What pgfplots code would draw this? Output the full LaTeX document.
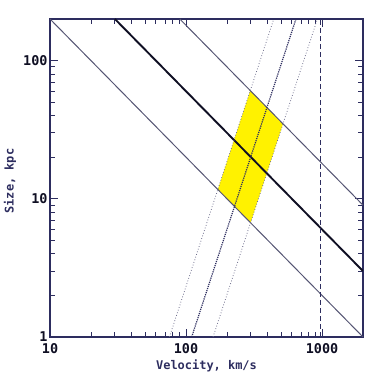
\documentclass[border=0pt]{standalone}
\usepackage{pgfplots}
\pgfplotsset{compat=1.18}
\usepackage{fontspec}
\setmainfont{DejaVu Sans Mono}
\definecolor{framec}{RGB}{45,45,95}
\definecolor{thinc}{RGB}{85,85,115}
\definecolor{thickc}{RGB}{15,15,35}
\definecolor{dotc}{RGB}{110,110,140}
\begin{document}
\begin{tikzpicture}
\path[use as bounding box] (0,0) rectangle (384bp,384bp);
\begin{axis}[
  at={(50bp,47bp)}, anchor=south west,
  scale only axis, width=313bp, height=318bp,
  xmode=log, ymode=log,
  xmin=10, xmax=2000, ymin=1, ymax=200,
  xtick={10,100,1000}, xticklabels={10,100,1000},
  ytick={1,10,100}, yticklabels={1,10,100},
  axis line style={framec, line width=1.2pt},
  every tick/.style={framec, line width=0.9pt},
  major tick length=8bp, minor tick length=5bp,
  tick align=inside,
  ticklabel style={font=\fontsize{13.5}{15}\selectfont\bfseries, text=thickc},
  xticklabel style={yshift=-3bp},
  yticklabel style={xshift=1bp},
  xlabel={Velocity, km/s}, ylabel={Size, kpc},
  label style={font=\fontsize{12}{13}\selectfont\bfseries, text=framec},
  xlabel style={at={(axis description cs:0.5,-0.09)}, anchor=center},
  ylabel style={at={(axis description cs:-0.128,0.49)}, anchor=center},
  clip=true,
]
\addplot[fill=yellow, draw=none] coordinates {(171.3,11.68) (296.7,60.67) (516.2,34.87) (298.0,6.71)} -- cycle;
\addplot[color=thinc, line width=1pt] coordinates {(10,200) (2000,1)};
\addplot[color=thinc, line width=1pt] coordinates {(90,200) (2000,9)};
\addplot[color=thickc, line width=1.9pt] coordinates {(30,200) (2000,3)};
\addplot[color=dotc, line width=0.8pt, dotted] coordinates {(75.5,1) (441.5,200)};
\addplot[color=framec, line width=1.2pt, densely dotted] coordinates {(110,1) (643,200)};
\addplot[color=dotc, line width=0.8pt, dotted] coordinates {(158,1) (924,200)};
\addplot[color=framec, line width=1.1pt, dash pattern=on 5bp off 3bp] coordinates {(970,1) (970,200)};
\end{axis}
\end{tikzpicture}
\end{document}
